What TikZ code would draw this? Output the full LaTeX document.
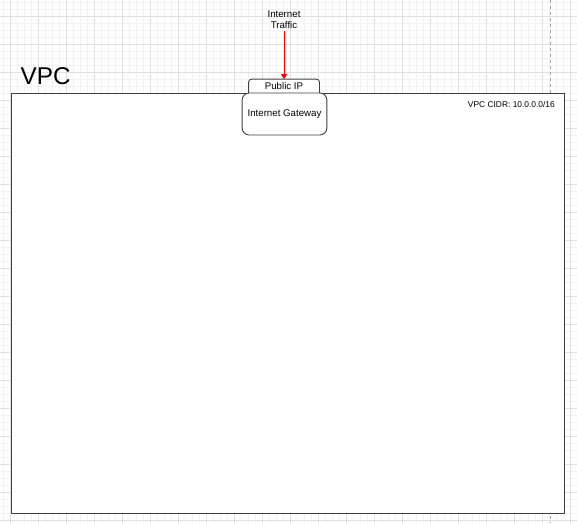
\documentclass[tikz,border=0pt]{standalone}
\usepackage{fontspec}
\setmainfont{Liberation Sans}
\usetikzlibrary{arrows.meta}
\begin{document}
\begin{tikzpicture}[x=1pt,y=-1pt,
  minorgrid/.style={draw=black!5, line width=0.5pt},
  majorgrid/.style={draw=black!12, line width=0.6pt},
  pagebreak/.style={draw=black!35, line width=0.6pt, dash pattern=on 3pt off 3pt},
  edgecol/.style={draw=black!75, line width=0.9pt},
  lbl/.style={inner sep=0pt, font=\fontsize{9.7}{11}\selectfont, align=center},
  trafficarrow/.style={draw=red, line width=0.7pt, -{Triangle[length=5pt,width=6pt]}}]
\useasboundingbox (0,0) rectangle (577,523);
\fill[white] (0,0) rectangle (577,523);
% background grid
\foreach \x in {3,10,...,577} \draw[minorgrid] (\x,0) -- (\x,523);
\foreach \y in {2,9,...,523} \draw[minorgrid] (0,\y) -- (577,\y);
\foreach \x in {10,38,...,577} \draw[majorgrid] (\x,0) -- (\x,523);
\foreach \y in {16,44,...,523} \draw[majorgrid] (0,\y) -- (577,\y);
\draw[pagebreak] (550,0) -- (550,523);
% VPC container
\node[edgecol, fill=white, inner sep=0pt, minimum width=553pt, minimum height=420pt, anchor=north west] (vpc) at (11,93) {};
\node[inner sep=0pt, anchor=base west, font=\fontsize{24.3}{28}\selectfont] (vpctitle) at (20.5,84.7) {VPC};
\node[inner sep=0pt, anchor=base east, font=\fontsize{8.4}{10}\selectfont] (cidr) at (555,107.5) {VPC CIDR: 10.0.0.0/16};
% Public IP tab
\node[inner sep=0pt, minimum width=70.5pt, minimum height=13.7pt] (pip) at (284,86.2) {};
\draw[edgecol, fill=white, rounded corners=3pt] (pip.south west) -- (pip.north west) -- (pip.north east) -- (pip.south east);
\node[lbl] (piptext) at (pip.center) {Public IP};
% Internet Gateway
\node[edgecol, fill=white, rounded corners=7pt, inner sep=0pt, minimum width=84.7pt, minimum height=42pt, lbl] (igw) at (284.5,114) {Internet Gateway};
% Internet traffic
\node[lbl] (traffic) at (284,20.2) {Internet\\Traffic};
\draw[trafficarrow] (traffic.south) ++(0,1.5) coordinate (tstart) (tstart) -- (pip.north);
\end{tikzpicture}
\end{document}
